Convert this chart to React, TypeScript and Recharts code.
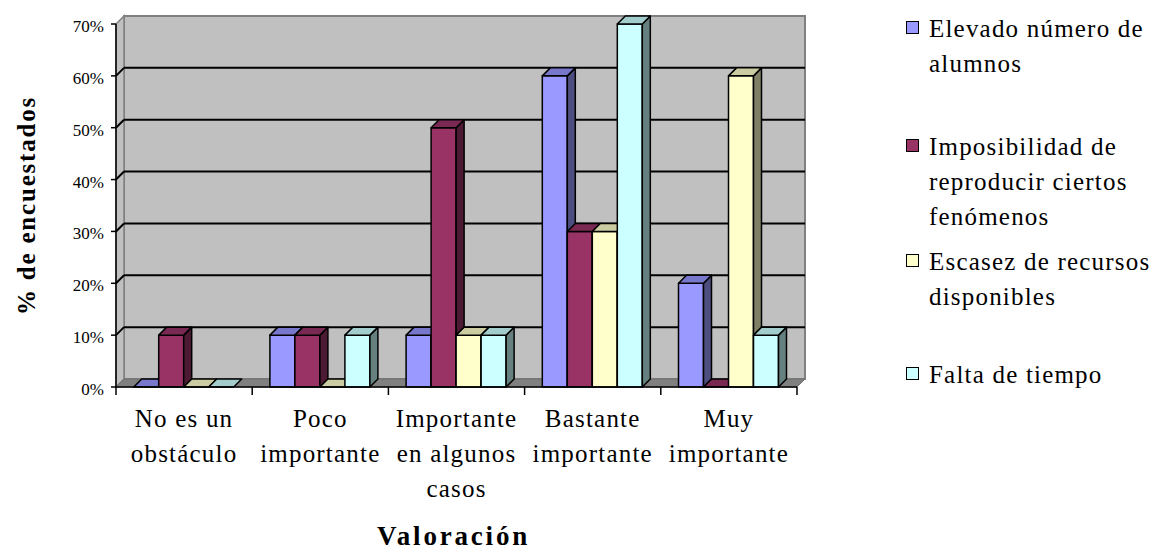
import { BarChart, Bar, XAxis, YAxis, CartesianGrid, ReferenceArea, Legend } from 'recharts'

const FONT = "'Liberation Serif', 'Tinos', 'DejaVu Serif', serif"

// categorías del eje X (saltos de línea como en el original)
const categories = [
  'No es un\nobstáculo',
  'Poco\nimportante',
  'Importante\nen algunos\ncasos',
  'Bastante\nimportante',
  'Muy\nimportante',
]

const seriesNames = [
  'Elevado número de\nalumnos',
  'Imposibilidad de\nreproducir ciertos\nfenómenos',
  'Escasez de recursos\ndisponibles',
  'Falta de tiempo',
]

// % de encuestados por serie
const elevadoNumero = [0, 10, 10, 60, 20]
const imposibilidad = [10, 10, 50, 30, 0]
const escasezRecursos = [0, 0, 10, 30, 60]
const faltaTiempo = [0, 10, 10, 70, 10]

const yTicks = [0, 10, 20, 30, 40, 50, 60, 70]

const seriesValues = [elevadoNumero, imposibilidad, escasezRecursos, faltaTiempo]

// frente / tapa / lateral
const colors = [
  { front: '#9999FF', top: '#7777CC', side: '#4D4D80' },
  { front: '#993366', top: '#7A2952', side: '#4D1A33' },
  { front: '#FFFFCC', top: '#CCCCA3', side: '#808066' },
  { front: '#CCFFFF', top: '#A3CCCC', side: '#668080' },
]

const data = categories.map((name, i) => {
  const row: any = { name }
  seriesValues.forEach((vals, s) => { row[`s${s}`] = vals[i] })
  return row
})

const D = 8 // profundidad 3D
const LEGEND_TOPS = [11, 129, 244, 357]

function Box3D(props: any) {
  const { x, y, width: w, height: h, c } = props
  if (x == null || y == null) return <g />
  const hh = Math.max(0, h || 0)
  return (
    <g stroke="#000" strokeWidth={1.5} strokeLinejoin="round">
      {hh > 0 && <rect x={x} y={y} width={w} height={hh} fill={c.front} />}
      {hh > 0 && (
        <polygon
          points={`${x + w},${y} ${x + w + D},${y - D} ${x + w + D},${y + hh - D} ${x + w},${y + hh}`}
          fill={c.side}
        />
      )}
      <polygon points={`${x},${y} ${x + D},${y - D} ${x + w + D},${y - D} ${x + w},${y}`} fill={c.top} />
    </g>
  )
}

function Walls(props: any) {
  const { x, y, width: w, height: h } = props
  return (
    <g>
      <rect x={x + D} y={y - D} width={w} height={h} fill="#C0C0C0" stroke="#808080" strokeWidth={2} />
      <polygon
        points={`${x},${y} ${x + D},${y - D} ${x + D},${y + h - D} ${x},${y + h}`}
        fill="#C0C0C0"
        stroke="#808080"
        strokeWidth={1.5}
      />
      <polygon
        points={`${x},${y + h} ${x + D},${y + h - D} ${x + w + D},${y + h - D} ${x + w},${y + h}`}
        fill="#808080"
        stroke="#6E6E6E"
        strokeWidth={1}
      />
    </g>
  )
}

function GridLine(props: any) {
  const { x1, y1, x2, y } = props
  const h = props.height
  if (Math.abs(y1 - y) < 1 || Math.abs(y1 - (y + h)) < 1) return <g />
  return (
    <g stroke="#000" strokeWidth={2}>
      <line x1={x1} y1={y1} x2={x1 + D} y2={y1 - D} />
      <line x1={x1 + D} y1={y1 - D} x2={x2 + D} y2={y1 - D} />
    </g>
  )
}

function CategoryTick(props: any) {
  const { x, y, payload, index, visibleTicksCount } = props
  const half = payload.offset || 68
  const lines = String(payload.value).split('\n')
  return (
    <g>
      <line x1={x - half} y1={y} x2={x - half} y2={y + 8} stroke="#000" strokeWidth={1.5} />
      {index === visibleTicksCount - 1 && (
        <line x1={x + half} y1={y} x2={x + half} y2={y + 8} stroke="#000" strokeWidth={1.5} />
      )}
      {lines.map((l, i) => (
        <text
          key={i}
          x={x}
          y={y + 40 + i * 35}
          textAnchor="middle"
          style={{ fontFamily: FONT, fontSize: 25, letterSpacing: 1.2 }}
          fill="#000"
        >
          {l}
        </text>
      ))}
    </g>
  )
}

function YTitle(props: any) {
  const vb = props.viewBox || { x: 56, y: 24, height: 363 }
  const cx = vb.x - 21
  const cy = vb.y + vb.height / 2
  return (
    <text
      x={cx}
      y={cy}
      transform={`rotate(-90 ${cx} ${cy})`}
      textAnchor="middle"
      style={{ fontFamily: FONT, fontWeight: 'bold', fontSize: 25, letterSpacing: 1.8 }}
      fill="#000"
    >
      % de encuestados
    </text>
  )
}

function XTitle(props: any) {
  const vb = props.viewBox || { x: 116, y: 387, width: 681 }
  return (
    <text
      x={vb.x + vb.width / 2 - 3}
      y={vb.y + 158}
      textAnchor="middle"
      style={{ fontFamily: FONT, fontWeight: 'bold', fontSize: 27, letterSpacing: 2.8 }}
      fill="#000"
    >
      Valoración
    </text>
  )
}

const renderLegend = (props: any) => {
  const payload = props.payload || []
  return (
    <div style={{ position: 'relative', width: 258, height: 420, fontFamily: FONT }}>
      {seriesNames.map((name, i) => {
        const entry = payload.find((p: any) => p.value === name)
        const color = entry ? entry.color : colors[i].front
        return (
          <div key={name} style={{ position: 'absolute', top: LEGEND_TOPS[i], left: 6 }}>
            <div
              style={{
                position: 'absolute',
                left: 0,
                top: 10,
                width: 13,
                height: 13,
                boxSizing: 'border-box',
                border: '1.5px solid #000',
                background: color,
              }}
            />
            <div
              style={{
                marginLeft: 23,
                fontFamily: FONT,
                fontSize: 25,
                lineHeight: '35px',
                letterSpacing: 1.2,
                whiteSpace: 'pre',
                color: '#000',
              }}
            >
              {name}
            </div>
          </div>
        )
      })}
    </div>
  )
}

export default function App() {
  return (
    <div style={{ position: 'absolute', left: 0, top: 0, background: '#fff', fontFamily: FONT }}>
      <BarChart
        width={1158}
        height={555}
        data={data}
        margin={{ top: 24, right: 361, left: 56, bottom: 0 }}
        barCategoryGap="13%"
        barGap={0}
        style={{ fontFamily: FONT }}
      >
        <ReferenceArea y1={0} y2={70} shape={<Walls />} zIndex={-200} />
        <CartesianGrid vertical={false} horizontal={(p: any) => <GridLine {...p} />} stroke="#000" />
        <XAxis
          dataKey="name"
          height={168}
          axisLine={{ stroke: '#000', strokeWidth: 1.5 }}
          tickLine={false}
          tickSize={0}
          tickMargin={0}
          interval={0}
          tick={<CategoryTick />}
          label={<XTitle />}
        />
        <YAxis
          width={60}
          domain={[0, 70]}
          ticks={yTicks}
          interval={0}
          tickFormatter={(v: number) => `${v}%`}
          axisLine={{ stroke: '#000', strokeWidth: 1.5 }}
          tickLine={{ stroke: '#000', strokeWidth: 1.5 }}
          tickSize={5}
          tickMargin={7}
          tick={{ fill: '#000', fontSize: 17, fontFamily: FONT, dy: 2 }}
          label={<YTitle />}
        />
        {seriesNames.map((name, s) => (
          <Bar
            key={name}
            dataKey={`s${s}`}
            name={name}
            fill={colors[s].front}
            isAnimationActive={false}
            shape={(p: any) => <Box3D {...p} c={colors[s]} />}
          />
        ))}
        <Legend
          layout="vertical"
          align="center"
          verticalAlign="middle"
          content={renderLegend}
          wrapperStyle={{ left: 900, top: 0, width: 258, height: 420 }}
        />
      </BarChart>
    </div>
  )
}
